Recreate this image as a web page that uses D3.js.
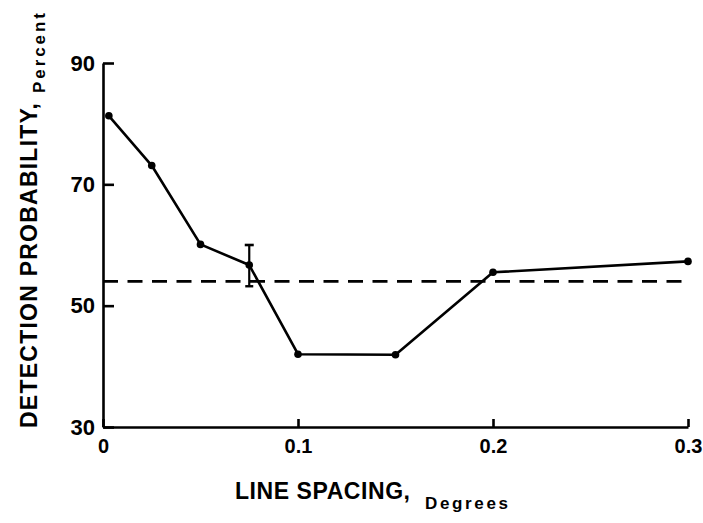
<!DOCTYPE html>
<html>
<head>
<meta charset="utf-8">
<script src="https://cdn.jsdelivr.net/npm/d3@7/dist/d3.min.js"></script>
<style>
  html, body { margin: 0; padding: 0; background: #fff; }
  svg { display: block; }
  text { font-family: "Liberation Sans", Arial, sans-serif; font-weight: bold; fill: #000; }
</style>
</head>
<body>
<div id="chart"></div>
<script>
// Detection probability vs. line spacing
const spacing = [0.003, 0.025, 0.05, 0.075, 0.1, 0.15, 0.2, 0.3];
const detection = [81.3, 73.1, 60.1, 56.7, 42.0, 41.9, 55.5, 57.3];

// Error bar at 0.075 degrees
const errorX = [0.075];
const errorLow = [53.2];
const errorHigh = [60.0];

// Horizontal reference level (dashed)
const referenceLevel = [54.0];

const xTicks = [0, 0.1, 0.2, 0.3];
const xTickLabels = ["0", "0.1", "0.2", "0.3"];
const yTicks = [30, 50, 70, 90];

const width = 703, height = 523;
const svg = d3.select("#chart").append("svg")
  .attr("width", width).attr("height", height);

const x = d3.scaleLinear().domain([0, 0.3]).range([103, 688]);
const y = d3.scaleLinear().domain([30, 90]).range([427, 63]);

// Y axis, ticks pointing inward
const yAxis = svg.append("g")
  .attr("transform", `translate(${x(0)},0)`)
  .call(d3.axisLeft(y).tickValues(yTicks).tickSize(-11).tickSizeOuter(0).tickPadding(8));
yAxis.selectAll("text").style("font-size", "22px");

// X axis, ticks pointing inward
const xAxis = svg.append("g")
  .attr("transform", `translate(0,${y(30)})`)
  .call(d3.axisBottom(x).tickValues(xTicks)
    .tickFormat((d, i) => xTickLabels[i]).tickSize(-8).tickSizeOuter(0).tickPadding(12));
xAxis.selectAll("text").style("font-size", "20px");

svg.selectAll(".domain, .tick line")
  .attr("stroke", "#000").attr("stroke-width", 2.6);
svg.selectAll(".tick text").attr("fill", "#000");

// Dashed reference line
svg.append("g").selectAll("line").data(referenceLevel).join("line")
  .attr("x1", x(0)).attr("x2", x(0.3))
  .attr("y1", d => y(d)).attr("y2", d => y(d))
  .attr("stroke", "#000").attr("stroke-width", 2.8)
  .attr("stroke-dasharray", "15,9.5");

// Data line
const pts = spacing.map((s, i) => [s, detection[i]]);
svg.append("path").datum(pts)
  .attr("fill", "none").attr("stroke", "#000").attr("stroke-width", 2.6)
  .attr("stroke-linejoin", "round")
  .attr("d", d3.line().x(d => x(d[0])).y(d => y(d[1])));

// Error bar
const eb = svg.append("g").attr("stroke", "#000").attr("stroke-width", 2.2);
errorX.forEach((ex, i) => {
  eb.append("line").attr("x1", x(ex)).attr("x2", x(ex))
    .attr("y1", y(errorLow[i])).attr("y2", y(errorHigh[i]));
  eb.append("line").attr("x1", x(ex) - 4.5).attr("x2", x(ex) + 4.5)
    .attr("y1", y(errorHigh[i])).attr("y2", y(errorHigh[i])).attr("stroke-width", 2.6);
  eb.append("line").attr("x1", x(ex) - 4).attr("x2", x(ex) + 4)
    .attr("y1", y(errorLow[i])).attr("y2", y(errorLow[i])).attr("stroke-width", 2.4);
});

// Points
svg.append("g").selectAll("circle").data(pts).join("circle")
  .attr("cx", d => x(d[0])).attr("cy", d => y(d[1])).attr("r", 3.8)
  .attr("fill", "#000");

// Axis titles
svg.append("text").attr("x", 235).attr("y", 499)
  .attr("textLength", 175).attr("lengthAdjust", "spacing")
  .style("font-size", "23px").text("LINE SPACING,");
svg.append("text").attr("x", 425).attr("y", 509)
  .attr("textLength", 83).attr("lengthAdjust", "spacing")
  .style("font-size", "17px").text("Degrees");

svg.append("text").attr("transform", "translate(37,428) rotate(-90)")
  .attr("textLength", 325).attr("lengthAdjust", "spacing")
  .style("font-size", "23px").text("DETECTION PROBABILITY,");
svg.append("text").attr("transform", "translate(45,93) rotate(-90)")
  .attr("textLength", 80).attr("lengthAdjust", "spacing")
  .style("font-size", "17px").text("Percent");
</script>
</body>
</html>
